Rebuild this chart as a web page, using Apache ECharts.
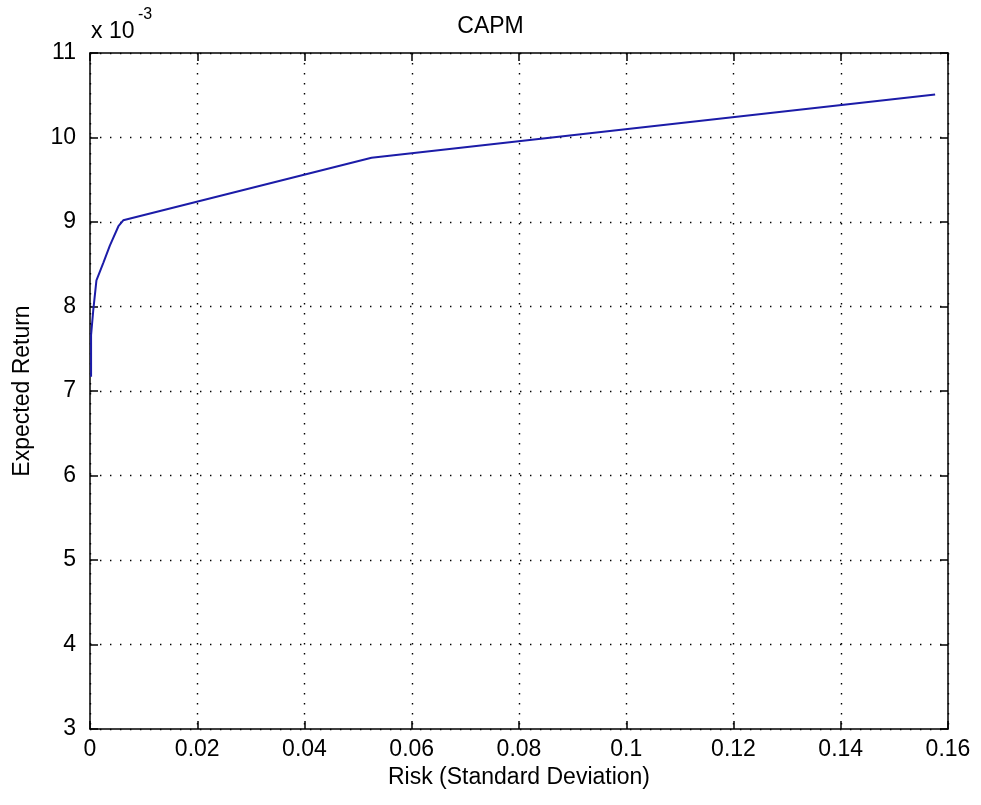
<!DOCTYPE html>
<html>
<head>
<meta charset="utf-8">
<title>CAPM</title>
<script src="https://cdn.jsdelivr.net/npm/echarts@6/dist/echarts.min.js"></script>
<style>
  html, body { margin: 0; padding: 0; background: #ffffff; }
  #chart { width: 981px; height: 805px; }
</style>
</head>
<body>
<div id="chart"></div>
<script>
// Efficient frontier: risk (standard deviation) vs expected return (in units of 1e-3)
const risk = [0.0002, 0.0002, 0.0006, 0.0012, 0.0025, 0.0037, 0.0053, 0.0062, 0.0525, 0.1576];
const expectedReturn = [7.17, 7.66, 7.95, 8.31, 8.52, 8.72, 8.95, 9.02, 9.76, 10.51];

const xTicks = { min: 0, max: 0.16, step: 0.02 };
const yTicks = { min: 3, max: 11, step: 1 };

const FONT = "'Liberation Sans', Arial, Helvetica, sans-serif";
const FS = 23;
const INK = '#000000';

const points = risk.map((r, i) => [r, expectedReturn[i]]);

const gridDots = { show: true, lineStyle: { color: '#000', width: 1.4, type: [1.4, 8.6] } };
const frame = { show: true, onZero: false, lineStyle: { color: INK, width: 1.5 } };
const inTicks = { show: true, inside: true, length: 8, lineStyle: { color: INK, width: 1.5 } };

const chart = echarts.init(document.getElementById('chart'), null, { renderer: 'canvas' });
chart.setOption({
  backgroundColor: '#ffffff',
  animation: false,
  textStyle: { fontFamily: FONT },
  title: {
    text: 'CAPM',
    left: 'center',
    top: 10,
    textStyle: { fontFamily: FONT, fontSize: FS, fontWeight: 'normal', color: INK }
  },
  grid: { left: 90, right: 33, top: 53, bottom: 76, containLabel: false },
  xAxis: [
    {
      type: 'value',
      position: 'bottom',
      min: xTicks.min, max: xTicks.max, interval: xTicks.step,
      name: 'Risk (Standard Deviation)',
      nameLocation: 'middle',
      nameGap: 37,
      nameTextStyle: { fontFamily: FONT, fontSize: FS, color: INK },
      axisLine: frame,
      axisTick: inTicks,
      axisLabel: {
        color: INK, fontFamily: FONT, fontSize: FS, margin: 9,
        formatter: v => String(Number(v.toFixed(2)))
      },
      splitLine: gridDots
    },
    {
      type: 'value',
      position: 'top',
      min: xTicks.min, max: xTicks.max, interval: xTicks.step,
      axisLine: frame,
      axisTick: inTicks,
      axisLabel: { show: false },
      splitLine: { show: false }
    }
  ],
  yAxis: [
    {
      type: 'value',
      position: 'left',
      min: yTicks.min, max: yTicks.max, interval: yTicks.step,
      name: 'Expected Return',
      nameLocation: 'middle',
      nameGap: 56,
      nameTextStyle: { fontFamily: FONT, fontSize: FS, color: INK },
      axisLine: frame,
      axisTick: inTicks,
      axisLabel: { color: INK, fontFamily: FONT, fontSize: FS, margin: 14 },
      splitLine: gridDots
    },
    {
      type: 'value',
      position: 'right',
      min: yTicks.min, max: yTicks.max, interval: yTicks.step,
      axisLine: frame,
      axisTick: inTicks,
      axisLabel: { show: false },
      splitLine: { show: false }
    }
  ],
  graphic: [
    {
      type: 'text',
      left: 91, top: 20,
      style: { text: 'x 10', font: FS + 'px ' + FONT, fill: INK }
    },
    {
      type: 'text',
      left: 138, top: 7,
      style: { text: '-3', font: '16px ' + FONT, fill: INK }
    }
  ],
  series: [
    {
      type: 'line',
      data: points,
      showSymbol: false,
      symbol: 'none',
      lineStyle: { color: '#1c1ca8', width: 2 },
      z: 5
    }
  ]
});
</script>
</body>
</html>
